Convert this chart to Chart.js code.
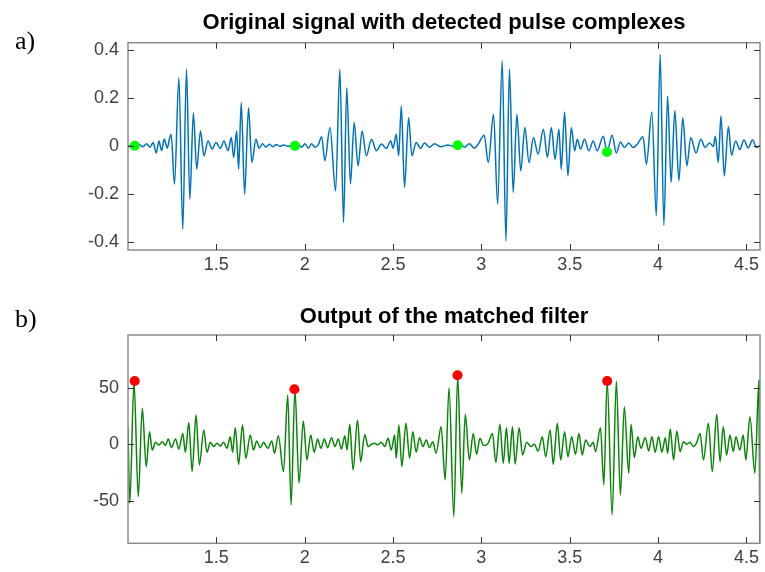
<!DOCTYPE html>
<html>
<head>
<meta charset="utf-8">
<script src="https://cdn.jsdelivr.net/npm/chart.js@4/dist/chart.umd.min.js"></script>
<style>
  body { margin: 0; background: #fff; }
  #page { position: relative; width: 765px; height: 572px; overflow: hidden; }
  .panel { position: absolute; left: 0; }
  .tag { position: absolute; left: 15px; font: 26px "Liberation Serif", "Times New Roman", serif; line-height: 26px; color: #000; }
</style>
</head>
<body>
<div id="page">
  <canvas id="topChart" class="panel" style="top:0" width="765" height="290"></canvas>
  <canvas id="botChart" class="panel" style="top:290px" width="765" height="282"></canvas>
  <div class="tag" style="top:28px">a)</div>
  <div class="tag" style="top:306px">b)</div>
</div>
<script>
// panel a) original signal (time in s)
const topSignalX = [1.000,1.038,1.062,1.085,1.105,1.125,1.142,1.160,1.175,1.190,1.205,1.222,1.235,1.244,1.263,1.288,1.310,1.331,1.350,1.370,1.389,1.410,1.430,1.453,1.476,1.498,1.523,1.543,1.566,1.585,1.598,1.615,1.626,1.641,1.660,1.682,1.701,1.724,1.742,1.761,1.780,1.800,1.820,1.840,1.860,1.880,1.905,1.945,
  1.965,1.983,2.002,2.021,2.039,2.058,2.077,2.096,2.114,2.143,2.175,2.199,2.220,2.238,2.259,2.280,2.302,2.325,2.349,2.378,2.406,2.434,2.462,2.487,2.500,2.518,2.532,2.547,2.565,2.588,2.607,2.631,2.656,2.678,2.706,2.735,2.772,2.810,2.840,2.866,
  2.885,2.904,2.932,2.960,2.979,3.016,3.039,3.069,3.092,3.118,3.139,3.159,3.180,3.201,3.223,3.246,3.270,3.295,3.321,3.351,3.374,3.396,3.417,3.439,3.452,3.471,3.490,3.509,3.528,3.543,3.561,3.584,3.608,3.633,3.655,3.690,3.711,
  3.740,3.764,3.787,3.809,3.834,3.858,3.881,3.915,3.934,3.965,3.990,4.012,4.033,4.054,4.074,4.095,4.118,4.140,4.163,4.185,4.215,4.242,4.266,4.291,4.313,4.324,4.341,4.356,4.375,4.398,4.416,4.439,4.463,4.486,4.510,4.535,4.557,4.586];
const topSignalY = [0,0,0.005,-0.004,0.008,-0.006,0.014,-0.03,0.02,-0.02,0.028,-0.01,0.03,0.048,-0.16,0.284,-0.348,0.319,-0.223,0.138,-0.098,0.062,-0.042,0.02,-0.014,0.014,-0.011,0.02,-0.02,0.034,-0.049,0.062,-0.098,0.18,-0.202,0.159,-0.07,0.027,-0.01,0.008,-0.005,0.006,-0.004,0.005,-0.003,0.003,-0.002,0,
  0.004,-0.006,0.008,-0.01,0.008,-0.006,0.004,0.038,-0.063,0.076,-0.188,0.319,-0.32,0.242,-0.16,0.097,-0.084,0.062,-0.042,0.027,-0.021,0.007,-0.011,0.02,-0.01,0.048,-0.042,0.166,-0.174,0.117,-0.042,0.014,-0.011,0.012,-0.006,0.008,-0.004,0.003,-0.002,0,
  0.004,-0.006,0.008,-0.01,0.003,0.044,-0.07,0.131,-0.244,0.355,-0.397,0.319,-0.195,0.131,-0.105,0.076,-0.07,0.034,-0.035,0.069,-0.049,0.076,-0.056,0.069,-0.098,0.141,-0.126,0.076,-0.021,0.027,-0.014,0.027,-0.021,0.02,-0.021,0.04,-0.026,
  0.044,-0.03,0.016,-0.007,0.012,-0.007,0.005,0.038,-0.077,0.141,-0.292,0.381,-0.331,0.208,-0.153,0.147,-0.146,0.117,-0.084,0.034,-0.03,0.027,-0.007,0.012,-0.003,0.04,-0.07,0.124,-0.126,0.08,-0.04,0.02,-0.015,0.024,-0.009,0.024,-0.007,0.008];
const pulseX = [1.038, 1.945, 2.866, 3.711];
const pulseY = [0, 0, 0.002, -0.026];
const topYTicks = [-0.4, -0.2, 0, 0.2, 0.4];
const topYLabels = ['-0.4', '-0.2', '0', '0.2', '0.4'];

// panel b) matched filter output
const filterX = [1.000,1.010,1.034,1.058,1.081,1.103,1.122,1.137,1.156,1.175,1.194,1.212,1.228,1.246,1.269,1.288,1.310,1.325,1.344,1.363,1.385,1.404,1.429,1.447,1.466,1.485,1.504,1.523,1.541,1.560,1.579,1.592,1.607,1.626,1.648,1.667,1.692,1.710,1.729,1.748,1.767,1.791,1.814,1.829,1.851,1.880,
  1.904,1.923,1.945,1.968,1.992,2.013,2.034,2.054,2.073,2.092,2.111,2.130,2.152,2.171,2.190,2.208,2.227,2.240,2.255,2.274,2.299,2.317,2.340,2.359,2.378,2.396,2.415,2.434,2.453,2.472,2.490,2.509,2.518,2.533,2.550,2.573,2.594,2.612,2.631,2.650,2.669,2.688,2.706,2.725,2.744,2.772,2.795,
  2.817,2.844,2.866,2.889,2.909,2.932,2.954,2.973,2.992,3.013,3.038,3.063,3.082,3.105,3.124,3.142,3.157,3.176,3.191,3.214,3.233,3.257,3.280,3.300,3.321,3.345,3.364,3.389,3.407,3.430,3.449,3.471,3.490,3.511,3.533,3.552,3.571,3.590,3.614,3.633,3.646,3.674,3.693,
  3.712,3.740,3.764,3.787,3.809,3.834,3.847,3.866,3.885,3.903,3.928,3.947,3.965,3.984,4.003,4.022,4.041,4.054,4.069,4.088,4.106,4.125,4.144,4.163,4.182,4.200,4.219,4.238,4.257,4.285,4.307,4.332,4.351,4.369,4.388,4.407,4.426,4.441,4.463,4.482,4.497,4.520,4.548,4.571,4.576];
const filterY = [15,-52,55.5,-46.2,31.7,-19.8,11.1,-5.1,1.7,-0.7,2.3,-1,4.6,-3,4.6,-4.2,9.6,-7.1,19.3,-24.2,25.8,-18.3,12.6,-7.1,1.7,-2.1,0.8,-1.5,1.7,-3.6,6.7,-7.1,14.6,-17.7,17,-12.4,8.2,-5.1,2.9,-3,1.7,-3.6,2.9,-8,7.6,-24.2,
  43.4,-53.6,48,-34.5,20.5,-13.9,8.2,-7.1,4.6,-3.6,4.6,-3,5.8,-2.1,4.6,-4.2,7.6,-5.1,17.6,-22.7,21.4,-15.4,8.7,-2.1,0,0.8,-0.5,1.7,-2.1,5.2,-5.1,8.2,-12.4,17,-19.8,18.5,-12.4,11.1,-7.1,5.8,-2.1,3.8,-3,2.3,-8,15.5,-31.5,
  50,-63.9,60.5,-43.3,26.4,-13.9,9.6,-8.9,5.2,-1.2,0.8,9.6,-16,17.6,-16.8,14.6,-16.8,15.5,-17.4,14.6,-9.5,1.7,-2.1,0,-6,6.7,-11,12.6,-17.7,18.5,-13.9,11.1,-11,6.7,-8.9,9.6,-9.5,3.8,-2.1,1.7,-6.5,14.6,-35.9,
  55.5,-62.4,55.8,-44.8,33.2,-25.7,17.6,-11.8,6.7,-3.6,5.8,-6,6.7,-7.1,6.7,-7.1,5.8,-8,13.5,-13.9,11.7,-6.5,2.3,0,1.7,-2.1,1.7,9.6,-13.9,18.5,-24.2,26.4,-15.4,15.5,-9.5,8.2,-6.5,6.7,-5.1,8.2,-13.9,24.3,-25.7,56.7,-95];
const peakX = [1.038, 1.942, 2.865, 3.712];
const peakY = [55.8, 48.6, 61, 55.8];
const botYTicks = [-50, 0, 50];
const botYLabels = ['-50', '0', '50'];

const xTicks = [1.5, 2, 2.5, 3, 3.5, 4, 4.5];
const xLabels = ['1.5', '2', '2.5', '3', '3.5', '4', '4.5'];

const zip = (xs, ys) => xs.map((v, i) => ({ x: v, y: ys[i] }));

// MATLAB style box with inward ticks
const boxFrame = {
  id: 'boxFrame',
  afterDatasetsDraw(chart) {
    const { ctx, chartArea: a, scales } = chart;
    ctx.save();
    ctx.strokeStyle = '#8c8c8c';
    ctx.lineWidth = 1.5;
    ctx.strokeRect(a.left, a.top, a.right - a.left, a.bottom - a.top);
    ctx.strokeStyle = '#333';
    ctx.lineWidth = 1;
    ctx.beginPath();
    scales.x.ticks.forEach(t => {
      const p = Math.round(scales.x.getPixelForValue(t.value)) + 0.5;
      ctx.moveTo(p, a.bottom); ctx.lineTo(p, a.bottom - 6);
      ctx.moveTo(p, a.top); ctx.lineTo(p, a.top + 6);
    });
    scales.y.ticks.forEach(t => {
      const p = Math.round(scales.y.getPixelForValue(t.value)) + 0.5;
      ctx.moveTo(a.left, p); ctx.lineTo(a.left + 6, p);
      ctx.moveTo(a.right, p); ctx.lineTo(a.right - 6, p);
    });
    ctx.stroke();
    ctx.restore();
  }
};

function makeChart(id, opt) {
  const ctx = document.getElementById(id).getContext('2d');
  return new Chart(ctx, {
    type: 'scatter',
    data: {
      datasets: [
        {
          data: opt.marks,
          pointRadius: opt.markRadius,
          pointBackgroundColor: opt.markColor,
          pointBorderWidth: 0,
          order: 0
        },
        {
          data: opt.line,
          showLine: true,
          borderColor: opt.lineColor,
          borderWidth: 1.5,
          pointRadius: 0,
          cubicInterpolationMode: 'monotone',
          order: 1
        }
      ]
    },
    options: {
      responsive: false,
      animation: false,
      devicePixelRatio: 1,
      layout: { padding: { left: 0, right: 2, top: 0, bottom: 0 } },
      plugins: {
        legend: { display: false },
        tooltip: { enabled: false },
        title: {
          display: true,
          text: opt.title,
          fullSize: false,
          color: '#000',
          font: { family: 'Liberation Sans, Arial, sans-serif', size: 22, weight: 'bold' },
          padding: opt.titlePad
        }
      },
      scales: {
        x: {
          type: 'linear',
          min: 1.0,
          max: 4.577,
          grid: { display: false, drawTicks: false },
          border: { display: false },
          afterBuildTicks: s => { s.ticks = xTicks.map(v => ({ value: v })); },
          afterFit: s => { s.height = opt.xHeight; },
          ticks: {
            padding: 4,
            color: '#404040',
            font: { family: 'Liberation Sans, Arial, sans-serif', size: 18 },
            callback: v => xLabels[xTicks.indexOf(v)]
          }
        },
        y: {
          min: opt.yMin,
          max: opt.yMax,
          grid: { display: false, drawTicks: false },
          border: { display: false },
          afterBuildTicks: s => { s.ticks = opt.yTicks.map(v => ({ value: v })); },
          afterFit: s => { s.width = 128; },
          ticks: {
            padding: 9,
            color: '#404040',
            font: { family: 'Liberation Sans, Arial, sans-serif', size: 18 },
            callback: v => opt.yLabels[opt.yTicks.indexOf(v)]
          }
        }
      }
    },
    plugins: [boxFrame]
  });
}

makeChart('topChart', {
  title: 'Original signal with detected pulse complexes',
  titlePad: { top: 9.6, bottom: 6.7 },
  line: zip(topSignalX, topSignalY),
  lineColor: '#0072bd',
  marks: zip(pulseX, pulseY),
  markColor: '#00ff00',
  markRadius: 5,
  yMin: -0.435, yMax: 0.43,
  yTicks: topYTicks, yLabels: topYLabels,
  xHeight: 40
});

makeChart('botChart', {
  title: 'Output of the matched filter',
  titlePad: { top: 13.5, bottom: 5.1 },
  line: zip(filterX, filterY),
  lineColor: '#0a850a',
  marks: zip(peakX, peakY),
  markColor: '#ff0000',
  markRadius: 5,
  yMin: -87.5, yMax: 96.5,
  yTicks: botYTicks, yLabels: botYLabels,
  xHeight: 28.7
});
</script>
</body>
</html>
